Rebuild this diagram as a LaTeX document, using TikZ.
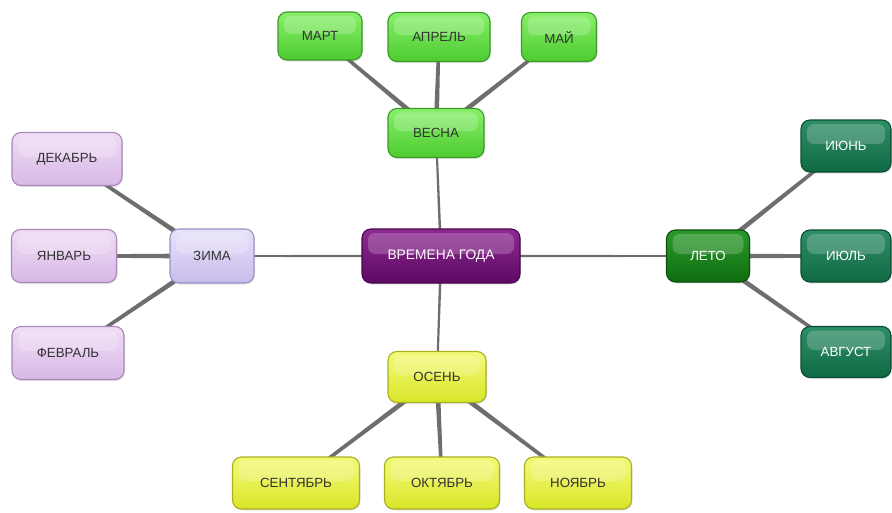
\documentclass[tikz,border=0pt]{standalone}
\usepackage{fontspec}
\setmainfont{Liberation Sans}
\usetikzlibrary{calc,shadows,backgrounds}
\pgfdeclarelayer{bg}
\pgfsetlayers{bg,background,main}
\definecolor{linec}{HTML}{6E6E6E}
\newcommand\taperlink[4]{%
  \fill[linec] ($(#1)!#3!90:(#2)$) -- ($(#2)!#4!-90:(#1)$) -- ($(#2)!#4!90:(#1)$) -- ($(#1)!#3!-90:(#2)$) -- cycle;}
\tikzset{
  mbox/.style={rounded corners=9pt, line width=1.1pt, inner sep=0pt,
    minimum height=50pt, font=\fontsize{13.3}{15}\selectfont,
    drop shadow={opacity=0.2, shadow xshift=1pt, shadow yshift=-1.5pt},
    path picture={\fill[white,opacity=0.2,rounded corners=7pt]
      ([xshift=6pt,yshift=-4pt]path picture bounding box.north west) rectangle
      ([xshift=-6pt,yshift=2pt]path picture bounding box.east);}},
  center/.style={mbox, top color=HubTop, bottom color=HubBot, draw=HubDraw, text=white, font=\fontsize{13.8}{15}\selectfont},
  spring/.style={mbox, top color=SprTop, bottom color=SprBot, draw=SprDraw, text=black!80},
  winter/.style={mbox, top color=WinTop, bottom color=WinBot, draw=WinDraw, text=black!80},
  winterhub/.style={mbox, top color=WhTop, bottom color=WhBot, draw=WhDraw, text=black!80},
  summer/.style={mbox, top color=SumTop, bottom color=SumBot, draw=SumDraw, text=white},
  summerhub/.style={mbox, top color=ShTop, bottom color=ShBot, draw=ShDraw, text=white},
  autumn/.style={mbox, top color=AutTop, bottom color=AutBot, draw=AutDraw, text=black!80},
}
\definecolor{HubTop}{HTML}{8E2A92}\definecolor{HubBot}{HTML}{5C0A62}\definecolor{HubDraw}{HTML}{4A0650}
\definecolor{SprTop}{HTML}{8AF06A}\definecolor{SprBot}{HTML}{4CCB30}\definecolor{SprDraw}{HTML}{3A9A28}
\definecolor{WinTop}{HTML}{F0DDF5}\definecolor{WinBot}{HTML}{D8B8E6}\definecolor{WinDraw}{HTML}{A888B8}
\definecolor{WhTop}{HTML}{E8E2FA}\definecolor{WhBot}{HTML}{C8BCEC}\definecolor{WhDraw}{HTML}{9C90C4}
\definecolor{SumTop}{HTML}{2E8E66}\definecolor{SumBot}{HTML}{106A44}\definecolor{SumDraw}{HTML}{0C4E32}
\definecolor{ShTop}{HTML}{2A9A2A}\definecolor{ShBot}{HTML}{0E6E10}\definecolor{ShDraw}{HTML}{0A4E0A}
\definecolor{AutTop}{HTML}{F4FA7A}\definecolor{AutBot}{HTML}{D8E628}\definecolor{AutDraw}{HTML}{A8B020}
\begin{document}
\begin{tikzpicture}[x=1pt,y=-1pt]
\begin{pgfonlayer}{bg}
\fill[white] (0,0) rectangle (892,512);
\end{pgfonlayer}
\useasboundingbox (0,0) rectangle (892,512);
% hub
\node[center, minimum width=158pt, minimum height=54pt] (hub) at (441,256) {ВРЕМЕНА ГОДА};
% spring
\node[spring, minimum width=96pt, minimum height=49pt] (spr) at (436,133) {ВЕСНА};
\node[spring, minimum width=84pt, minimum height=48pt] (mar) at (320,36) {МАРТ};
\node[spring, minimum width=102pt, minimum height=49pt] (apr) at (439,37) {АПРЕЛЬ};
\node[spring, minimum width=75pt, minimum height=49pt] (may) at (559,37) {МАЙ};
% winter
\node[winterhub, minimum width=84pt, minimum height=54pt] (win) at (212,256) {ЗИМА};
\node[winter, minimum width=110pt, minimum height=53pt] (dec) at (67,159) {ДЕКАБРЬ};
\node[winter, minimum width=105pt, minimum height=53pt] (jan) at (64,256) {ЯНВАРЬ};
\node[winter, minimum width=112pt, minimum height=53pt] (feb) at (68,353) {ФЕВРАЛЬ};
% summer
\node[summerhub, minimum width=83pt, minimum height=52pt] (sum) at (708,256) {ЛЕТО};
\node[summer, minimum width=90pt, minimum height=52pt] (jun) at (846,146) {ИЮНЬ};
\node[summer, minimum width=90pt, minimum height=52pt] (jul) at (846,256) {ИЮЛЬ};
\node[summer, minimum width=90pt, minimum height=51pt] (aug) at (846,352) {АВГУСТ};
% autumn
\node[autumn, minimum width=98pt, minimum height=51pt] (aut) at (437,377) {ОСЕНЬ};
\node[autumn, minimum width=127pt, minimum height=52pt] (sep) at (296,483) {СЕНТЯБРЬ};
\node[autumn, minimum width=115pt, minimum height=52pt] (oct) at (442,483) {ОКТЯБРЬ};
\node[autumn, minimum width=107pt, minimum height=52pt] (nov) at (578,483) {НОЯБРЬ};
\begin{scope}[on background layer]
\taperlink{hub.center}{spr.center}{1.3pt}{1pt}
\taperlink{hub.center}{aut.center}{1.3pt}{1pt}
\taperlink{hub.center}{win.center}{1.2pt}{0.9pt}
\taperlink{hub.center}{sum.center}{1.2pt}{0.9pt}
\taperlink{spr.center}{mar.center}{2.6pt}{1.5pt}
\taperlink{spr.center}{apr.center}{2.6pt}{1.5pt}
\taperlink{spr.center}{may.center}{2.6pt}{1.5pt}
\taperlink{win.center}{dec.center}{2.6pt}{1.5pt}
\taperlink{win.center}{jan.center}{2.6pt}{1.5pt}
\taperlink{win.center}{feb.center}{2.6pt}{1.5pt}
\taperlink{sum.center}{jun.center}{2.6pt}{1.5pt}
\taperlink{sum.center}{jul.center}{2.6pt}{1.5pt}
\taperlink{sum.center}{aug.center}{2.6pt}{1.5pt}
\taperlink{aut.center}{sep.center}{2.6pt}{1.5pt}
\taperlink{aut.center}{oct.center}{2.6pt}{1.5pt}
\taperlink{aut.center}{nov.center}{2.6pt}{1.5pt}
\end{scope}
\end{tikzpicture}
\end{document}
